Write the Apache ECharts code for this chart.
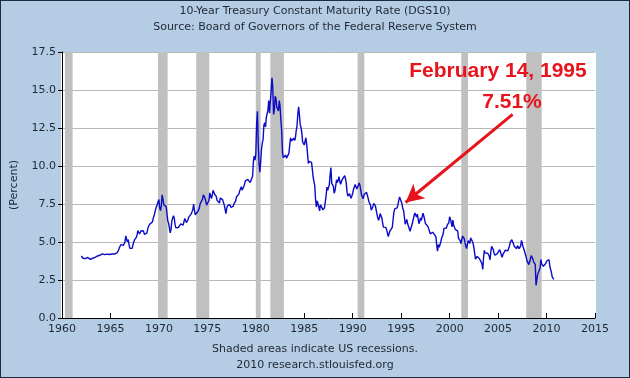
<!DOCTYPE html>
<html>
<head>
<meta charset="utf-8">
<script src="https://cdn.jsdelivr.net/npm/echarts@6/dist/echarts.min.js"></script>
<style>
  html, body { margin: 0; padding: 0; }
  #chart {
    width: 628px; height: 376px;
    border: 1px solid #1a2a40;
    background: #b4cce4;
  }
</style>
</head>
<body>
<div id="chart"></div>
<script>
// DGS10, month by month from Jan 1962 (roughly)
const startYear = 1962
const rates = [
  4.08, 4.04, 3.93, 3.84, 3.87, 3.91, 4.01, 3.98, 3.98, 3.93, 3.92, 3.86, // 1962
  3.83, 3.92, 3.93, 3.97, 3.93, 3.99, 4.02, 4.00, 4.08, 4.11, 4.12, 4.13, // 1963
  4.17, 4.15, 4.22, 4.23, 4.20, 4.17, 4.19, 4.19, 4.20, 4.19, 4.15, 4.18, // 1964
  4.19, 4.21, 4.21, 4.20, 4.21, 4.21, 4.20, 4.25, 4.29, 4.35, 4.45, 4.62, // 1965
  4.61, 4.83, 4.87, 4.75, 4.78, 4.81, 5.02, 5.40, 5.18, 5.01, 5.16, 4.84, // 1966
  4.58, 4.63, 4.54, 4.59, 4.85, 5.02, 5.16, 5.28, 5.30, 5.48, 5.75, 5.70, // 1967
  5.53, 5.56, 5.74, 5.64, 5.87, 5.72, 5.50, 5.42, 5.46, 5.58, 5.70, 6.03, // 1968
  6.04, 6.19, 6.30, 6.17, 6.32, 6.57, 6.72, 6.69, 7.16, 7.10, 7.14, 7.65, // 1969
  7.79, 7.24, 7.07, 7.39, 8.10, 7.84, 7.46, 7.53, 7.39, 7.33, 6.84, 6.39, // 1970
  6.24, 6.11, 5.60, 5.83, 6.39, 6.52, 6.73, 6.58, 6.14, 5.93, 5.81, 5.93, // 1971
  5.95, 6.08, 6.07, 6.19, 6.13, 6.11, 6.11, 6.21, 6.55, 6.48, 6.28, 6.36, // 1972
  6.46, 6.64, 6.71, 6.67, 6.85, 6.90, 7.13, 7.50, 7.09, 6.79, 6.73, 6.74, // 1973
  6.99, 6.96, 7.21, 7.51, 7.58, 7.54, 7.81, 8.10, 8.04, 7.90, 7.68, 7.43, // 1974
  7.50, 7.39, 7.73, 8.23, 8.06, 7.86, 8.06, 8.40, 8.50, 8.14, 8.05, 8.00, // 1975
  7.74, 7.79, 7.73, 7.56, 7.90, 7.86, 7.83, 7.77, 7.59, 7.41, 7.29, 6.87, // 1976
  7.21, 7.39, 7.46, 7.37, 7.46, 7.28, 7.33, 7.40, 7.34, 7.52, 7.58, 7.69, // 1977
  7.96, 8.03, 8.04, 8.15, 8.35, 8.46, 8.64, 8.41, 8.42, 8.64, 8.81, 9.01, // 1978
  9.10, 9.10, 9.12, 9.18, 9.25, 8.91, 8.95, 9.03, 9.33, 10.30, 10.65, 10.39, // 1979
  10.80, 12.80, 13.60, 11.47, 10.18, 9.60, 10.25, 11.10, 11.51, 11.75, 12.68, 12.84, // 1980
  12.57, 13.19, 13.12, 13.68, 14.30, 13.47, 14.28, 14.94, 15.80, 15.15, 13.39, 13.72, // 1981
  14.59, 14.43, 13.86, 13.87, 13.62, 14.30, 13.95, 13.06, 12.34, 10.91, 10.55, 10.54, // 1982
  10.46, 10.72, 10.51, 10.40, 10.38, 10.85, 11.38, 11.85, 11.65, 11.54, 11.69, 11.83, // 1983
  11.67, 11.84, 12.32, 12.63, 13.41, 13.90, 13.36, 12.72, 12.52, 12.16, 11.57, 11.50, // 1984
  11.38, 11.51, 11.86, 11.43, 10.85, 10.16, 10.31, 10.33, 10.37, 10.24, 9.78, 9.26, // 1985
  9.19, 8.70, 7.78, 7.30, 7.71, 7.80, 7.30, 7.05, 7.45, 7.43, 7.25, 7.11, // 1986
  7.08, 7.25, 7.25, 8.02, 8.61, 8.40, 8.45, 8.76, 9.42, 9.90, 8.86, 8.99, // 1987
  8.67, 8.21, 8.37, 8.72, 9.09, 8.92, 9.06, 9.30, 8.98, 8.80, 8.96, 9.11, // 1988
  9.09, 9.17, 9.36, 9.18, 8.86, 8.28, 8.02, 8.11, 8.19, 8.01, 7.87, 7.84, // 1989
  8.21, 8.47, 8.59, 8.79, 8.76, 8.48, 8.47, 8.75, 8.89, 8.72, 8.39, 8.08, // 1990
  8.09, 7.85, 8.11, 8.04, 8.07, 8.28, 8.27, 7.90, 7.65, 7.53, 7.42, 7.09, // 1991
  7.03, 7.34, 7.54, 7.48, 7.39, 7.26, 6.84, 6.59, 6.42, 6.59, 6.87, 6.77, // 1992
  6.60, 6.26, 5.98, 5.97, 6.04, 5.96, 5.81, 5.68, 5.36, 5.33, 5.72, 5.77, // 1993
  5.75, 5.97, 6.48, 6.97, 7.18, 7.10, 7.30, 7.24, 7.46, 7.74, 7.96, 7.81, // 1994
  7.78, 7.51, 7.20, 7.06, 6.63, 6.17, 6.28, 6.49, 6.20, 6.04, 5.93, 5.71, // 1995
  5.65, 5.81, 6.27, 6.51, 6.74, 6.91, 6.87, 6.64, 6.83, 6.53, 6.20, 6.30, // 1996
  6.58, 6.42, 6.69, 6.89, 6.71, 6.49, 6.22, 6.30, 6.21, 6.03, 5.88, 5.81, // 1997
  5.54, 5.57, 5.65, 5.64, 5.65, 5.50, 5.46, 5.34, 4.81, 4.40, 4.83, 4.65, // 1998
  4.72, 5.00, 5.23, 5.18, 5.54, 5.90, 5.79, 5.94, 5.92, 6.11, 6.03, 6.28, // 1999
  6.66, 6.52, 6.26, 5.99, 6.44, 6.10, 6.05, 5.83, 5.80, 5.74, 5.72, 5.24, // 2000
  5.16, 5.10, 4.89, 5.14, 5.39, 5.28, 5.24, 4.97, 4.73, 4.57, 4.65, 5.09, // 2001
  5.04, 4.91, 5.28, 5.21, 5.16, 4.93, 4.65, 4.26, 3.87, 3.94, 4.05, 4.03, // 2002
  4.05, 3.90, 3.81, 3.96, 3.57, 3.20, 3.98, 4.45, 4.27, 4.29, 4.30, 4.27, // 2003
  4.15, 4.08, 3.83, 4.35, 4.72, 4.73, 4.50, 4.28, 4.13, 4.10, 4.19, 4.23, // 2004
  4.22, 4.17, 4.50, 4.34, 4.14, 4.00, 4.18, 4.26, 4.20, 4.46, 4.54, 4.47, // 2005
  4.42, 4.57, 4.72, 4.99, 5.11, 5.15, 5.09, 4.88, 4.72, 4.73, 4.60, 4.56, // 2006
  4.76, 4.72, 4.56, 4.69, 4.75, 5.10, 5.00, 4.67, 4.52, 4.53, 4.15, 4.10, // 2007
  3.74, 3.74, 3.51, 3.68, 3.88, 4.10, 4.01, 3.89, 3.69, 3.81, 3.53, 2.15, // 2008
  2.52, 2.87, 2.82, 2.93, 3.29, 3.85, 3.56, 3.59, 3.40, 3.39, 3.40, 3.59, // 2009
  3.73, 3.69, 3.73, 3.85, 3.42, 3.20, 3.01, 2.70, 2.65, 2.54               // 2010
]

// NBER recessions, as decimal years
const recessions = [
  [1960.3, 1961.1], [1969.9, 1970.9], [1973.85, 1975.2], [1980.0, 1980.5],
  [1981.5, 1982.9], [1990.5, 1991.2], [2001.2, 2001.9], [2007.9, 2009.5]
]

const xTicks = { min: 1960, max: 2015, step: 5 }
const yTicks = { min: 0, max: 17.5, step: 2.5 }

const titleText = '10-Year Treasury Constant Maturity Rate (DGS10)'
const sourceText = 'Source: Board of Governors of the Federal Reserve System'
const noteText = 'Shaded areas indicate US recessions.'
const creditText = '2010 research.stlouisfed.org'
const callout = { date: 'February 14, 1995', value: '7.51%', from: [2006.5, 13.4], to: [1995.45, 7.6] }

const seriesData = rates.map((v, i) => [startYear + i / 12, v])

const font = 'DejaVu Sans, Verdana, sans-serif'
const textColor = '#1f2733'
const red = '#e8141c'

const chart = echarts.init(document.getElementById('chart'))
chart.setOption({
  animation: false,
  backgroundColor: '#b4cce4',
  grid: { left: 59, right: 34, top: 51, bottom: 59 },
  xAxis: {
    type: 'value',
    min: xTicks.min, max: xTicks.max, interval: xTicks.step,
    axisLine: { lineStyle: { color: '#000', width: 1 } },
    axisTick: { inside: true, length: 5, lineStyle: { color: '#000' } },
    axisLabel: { color: textColor, fontFamily: font, fontSize: 11, margin: 6, formatter: v => String(v) },
    splitLine: { show: false }
  },
  yAxis: {
    type: 'value',
    min: yTicks.min, max: yTicks.max, interval: yTicks.step,
    name: '(Percent)',
    nameLocation: 'middle',
    nameGap: 42,
    nameTextStyle: { color: textColor, fontFamily: font, fontSize: 11 },
    axisLine: { show: true, lineStyle: { color: '#000', width: 1 } },
    axisTick: { show: true, length: 4, lineStyle: { color: '#000' } },
    axisLabel: { color: textColor, fontFamily: font, fontSize: 11, margin: 6, formatter: v => v.toFixed(1) },
    splitLine: { lineStyle: { color: '#b8b8b8', width: 1 } }
  },
  graphic: [
    { type: 'rect', shape: { x: 60, y: 51, width: 535, height: 266 }, style: { fill: '#fff' }, z: -1, silent: true },
    { type: 'text', left: 'center', top: 5, style: { text: titleText, font: '11px ' + font, fill: textColor } },
    { type: 'text', left: 'center', top: 21, style: { text: sourceText, font: '11px ' + font, fill: textColor } },
    { type: 'text', left: 'center', top: 343, style: { text: noteText, font: '11px ' + font, fill: textColor } },
    { type: 'text', left: 'center', top: 359, style: { text: creditText, font: '11px ' + font, fill: textColor } },
    { type: 'text', x: 497, y: 70, style: { text: callout.date, font: 'bold 21px Liberation Sans, Arial, sans-serif', fill: red, align: 'center', verticalAlign: 'middle' }, z: 10 },
    { type: 'text', x: 511, y: 101, style: { text: callout.value, font: 'bold 21px Liberation Sans, Arial, sans-serif', fill: red, align: 'center', verticalAlign: 'middle' }, z: 10 }
  ],
  series: [{
    type: 'line',
    data: seriesData,
    showSymbol: false,
    sampling: 'none',
    lineStyle: { color: '#0a0ac8', width: 1.4 },
    z: 3,
    markArea: {
      silent: true,
      itemStyle: { color: '#c0c0c0' },
      data: recessions.map(r => [{ xAxis: r[0] }, { xAxis: r[1] }])
    },
    markLine: {
      silent: true,
      symbol: ['none', 'arrow'],
      symbolSize: [14, 18],
      label: { show: false },
      lineStyle: { color: red, width: 3, type: 'solid' },
      data: [[{ coord: callout.from }, { coord: callout.to }]]
    }
  }]
})
</script>
</body>
</html>
